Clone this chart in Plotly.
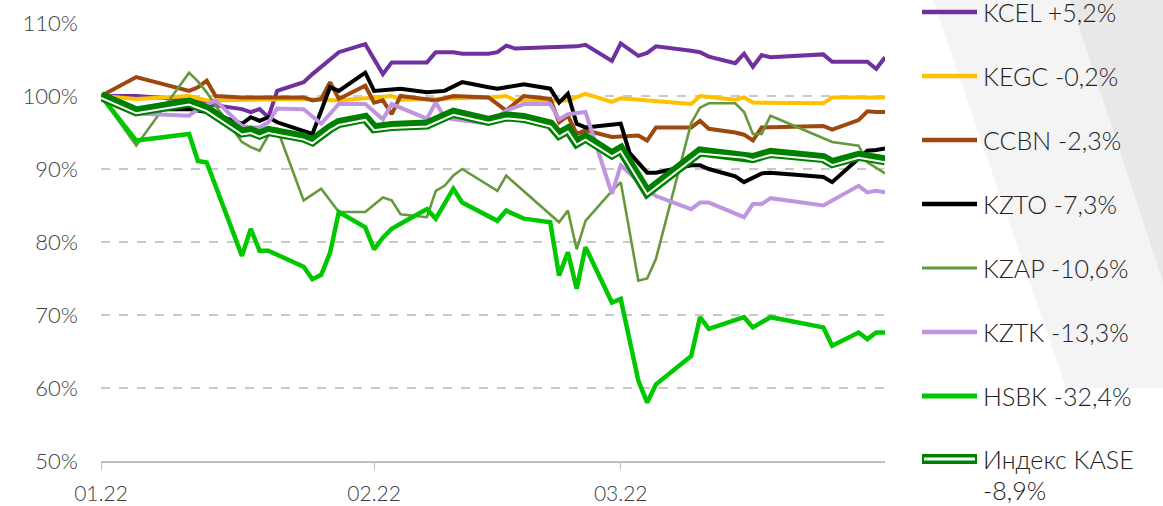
"""
KASE stocks vs index, Q1 2022 (relative to start of year, %).
"""

import plotly.graph_objects as go

# ---- data (MM-DD of 2022, value in % of base) ----
kcel_dates = ["01-01", "01-05", "01-11", "01-13", "01-17", "01-18", "01-19", "01-20", "01-21", "01-24",
              "01-25", "01-26", "01-27", "01-28", "01-31", "02-02", "02-03", "02-07", "02-08", "02-10",
              "02-11", "02-14", "02-15", "02-16", "02-17", "02-24", "02-25", "02-28", "03-01", "03-03",
              "03-04", "03-05", "03-09", "03-10", "03-11", "03-14", "03-15", "03-16", "03-17", "03-18",
              "03-24", "03-25", "03-29", "03-30", "03-31"]
kcel_vals = [100.0, 100.0, 99.5, 98.9, 98.2, 97.8, 98.2, 97.1, 100.7, 101.9,
             103.0, 104.0, 105.0, 106.0, 107.1, 103.0, 104.6, 104.6, 106.0, 106.0,
             105.8, 105.8, 106.0, 106.9, 106.5, 106.8, 107.0, 104.8, 107.2, 105.5,
             105.9, 106.8, 106.2, 106.0, 105.4, 104.5, 105.8, 104.0, 105.6, 105.3,
             105.7, 104.7, 104.7, 103.7, 105.3]

kegc_dates = ["01-01", "01-05", "01-11", "01-13", "01-24", "01-28", "02-03", "02-04", "02-14", "02-16",
              "02-17", "02-23", "02-25", "02-28", "03-01", "03-09", "03-10", "03-14", "03-15", "03-16",
              "03-24", "03-25", "03-31"]
kegc_vals = [100.0, 99.6, 100.0, 99.4, 99.6, 99.4, 100.0, 99.5, 99.8, 100.0,
             99.4, 99.4, 100.3, 99.2, 99.7, 98.9, 100.0, 99.5, 99.8, 99.1,
             99.0, 99.8, 99.8]

ccbn_dates = ["01-01", "01-05", "01-11", "01-12", "01-13", "01-14", "01-17", "01-24", "01-25", "01-26",
              "01-27", "01-28", "01-31", "02-01", "02-02", "02-03", "02-04", "02-08", "02-10", "02-14",
              "02-16", "02-18", "02-21", "02-22", "02-23", "02-24", "02-25", "02-28", "03-03", "03-04",
              "03-05", "03-09", "03-10", "03-11", "03-14", "03-15", "03-16", "03-17", "03-24", "03-25",
              "03-28", "03-29", "03-30", "03-31"]
ccbn_vals = [100.0, 102.6, 100.7, 101.2, 102.1, 100.0, 99.8, 99.8, 99.4, 99.6,
             101.9, 99.6, 101.4, 99.1, 99.4, 97.5, 100.0, 99.4, 100.0, 99.8,
             98.0, 100.0, 99.6, 96.4, 97.3, 94.8, 95.3, 94.4, 94.6, 93.9,
             95.7, 95.7, 96.6, 95.5, 95.0, 94.7, 93.9, 95.7, 95.9, 95.4,
             96.7, 97.9, 97.8, 97.8]

kzto_dates = ["01-01", "01-05", "01-11", "01-13", "01-17", "01-18", "01-19", "01-20", "01-21", "01-24",
              "01-25", "01-27", "01-28", "01-31", "02-01", "02-04", "02-07", "02-09", "02-11", "02-14",
              "02-15", "02-18", "02-21", "02-22", "02-23", "02-24", "02-25", "03-01", "03-02", "03-04",
              "03-05", "03-09", "03-10", "03-11", "03-14", "03-15", "03-16", "03-17", "03-18", "03-24",
              "03-25", "03-28", "03-29", "03-30", "03-31"]
kzto_vals = [100.0, 98.2, 98.2, 97.8, 96.2, 97.1, 96.6, 97.1, 96.4, 95.3,
             94.8, 101.2, 100.7, 103.2, 100.7, 101.0, 100.5, 100.7, 101.9, 101.2,
             101.0, 101.6, 101.0, 99.1, 100.3, 96.2, 95.7, 96.2, 92.2, 89.5,
             89.5, 90.5, 90.5, 90.0, 89.0, 88.2, 88.8, 89.4, 89.5, 88.9,
             88.2, 91.3, 92.5, 92.6, 92.8]

kzap_dates = ["01-01", "01-05", "01-11", "01-12", "01-13", "01-14", "01-17", "01-18", "01-19", "01-20",
              "01-21", "01-24", "01-26", "01-28", "01-31", "02-02", "02-03", "02-04", "02-07", "02-08",
              "02-09", "02-10", "02-11", "02-14", "02-15", "02-16", "02-21", "02-22", "02-23", "02-24",
              "02-25", "02-28", "03-01", "03-02", "03-03", "03-04", "03-05", "03-09", "03-10", "03-11",
              "03-14", "03-15", "03-16", "03-17", "03-18", "03-25", "03-28", "03-29", "03-31"]
kzap_vals = [100.0, 93.2, 103.2, 102.0, 100.5, 98.7, 93.7, 93.0, 92.5, 94.6,
             95.5, 85.7, 87.3, 84.1, 84.1, 86.1, 85.7, 83.8, 83.4, 87.0,
             87.7, 89.1, 90.0, 87.7, 87.0, 89.1, 83.8, 82.7, 84.3, 79.0,
             82.9, 87.0, 88.2, 81.5, 74.7, 75.0, 77.7, 96.3, 98.4, 99.0,
             99.0, 97.8, 94.8, 94.8, 97.3, 93.7, 93.2, 90.9, 89.4]

kztk_dates = ["01-01", "01-05", "01-11", "01-12", "01-14", "01-17", "01-18", "01-19", "01-20", "01-21",
              "01-24", "01-26", "01-28", "01-31", "02-02", "02-03", "02-07", "02-08", "02-09", "02-10",
              "02-14", "02-16", "02-18", "02-21", "02-22", "02-23", "02-25", "02-28", "03-01", "03-03",
              "03-04", "03-05", "03-09", "03-10", "03-11", "03-15", "03-16", "03-17", "03-18", "03-24",
              "03-28", "03-29", "03-30", "03-31"]
kztk_vals = [100.0, 97.6, 97.3, 98.2, 99.4, 95.9, 95.7, 95.7, 96.4, 98.3,
             98.2, 96.2, 98.9, 98.9, 96.8, 98.9, 96.9, 99.1, 97.1, 96.8,
             96.2, 98.0, 98.9, 98.9, 96.8, 97.5, 97.8, 86.6, 90.5, 88.2,
             87.2, 86.3, 84.5, 85.4, 85.4, 83.4, 85.2, 85.2, 86.0, 85.0,
             87.7, 86.8, 87.0, 86.8]

hsbk_dates = ["01-01", "01-05", "01-11", "01-12", "01-13", "01-17", "01-18", "01-19", "01-20", "01-24",
              "01-25", "01-26", "01-27", "01-28", "01-31", "02-01", "02-02", "02-03", "02-04", "02-07",
              "02-08", "02-10", "02-11", "02-14", "02-15", "02-16", "02-18", "02-21", "02-22", "02-23",
              "02-24", "02-25", "02-28", "03-01", "03-03", "03-04", "03-05", "03-09", "03-10", "03-11",
              "03-14", "03-15", "03-16", "03-18", "03-24", "03-25", "03-28", "03-29", "03-30", "03-31"]
hsbk_vals = [100.0, 93.9, 94.8, 91.1, 90.9, 78.1, 81.8, 78.8, 78.8, 76.6,
             74.9, 75.5, 78.5, 84.1, 82.0, 79.0, 80.6, 81.8, 82.5, 84.5,
             83.2, 87.3, 85.4, 83.6, 82.9, 84.3, 83.2, 82.7, 75.4, 78.6,
             73.6, 79.3, 71.7, 72.2, 61.0, 58.0, 60.5, 64.4, 69.7, 68.1,
             69.2, 69.7, 68.3, 69.7, 68.3, 65.8, 67.6, 66.7, 67.6, 67.6]

kase_dates = ["01-01", "01-05", "01-11", "01-13", "01-17", "01-18", "01-19", "01-20", "01-24", "01-25",
              "01-27", "01-28", "01-31", "02-01", "02-03", "02-07", "02-10", "02-14", "02-16", "02-18",
              "02-21", "02-22", "02-23", "02-24", "02-25", "02-28", "03-01", "03-04", "03-10", "03-15",
              "03-16", "03-18", "03-24", "03-25", "03-28", "03-31"]
kase_vals = [100.0, 97.9, 99.1, 98.2, 95.0, 95.2, 94.7, 95.2, 94.3, 93.8,
             95.6, 96.3, 97.0, 95.6, 95.9, 96.1, 97.7, 96.6, 97.2, 97.0,
             96.1, 94.7, 95.4, 93.6, 94.3, 92.0, 92.7, 86.8, 92.4, 91.8,
             91.5, 92.2, 91.5, 90.8, 91.8, 91.2]

y_ticks = [50, 60, 70, 80, 90, 100, 110]
y_labels = [f"{v}%" for v in y_ticks]

series = [
    ("KCEL +5,2%", kcel_dates, kcel_vals, "#7030a0", 4),
    ("KEGC -0,2%", kegc_dates, kegc_vals, "#ffc000", 4),
    ("CCBN -2,3%", ccbn_dates, ccbn_vals, "#9c480e", 4),
    ("KZTO -7,3%", kzto_dates, kzto_vals, "#000000", 4),
    ("KZAP -10,6%", kzap_dates, kzap_vals, "#65993c", 2.6),
    ("KZTK -13,3%", kztk_dates, kztk_vals, "#bf95e0", 4),
    ("HSBK -32,4%", hsbk_dates, hsbk_vals, "#00c800", 4.5),
]
kase_name = ["Индекс KASE", "-8,9%"]
kase_color = "#008000"

FONT = "Lato, 'Open Sans', sans-serif"
Y_RANGE = [50, 110]

# plot box in pixels, used for the decoration / manual legend placement
L, R, T, B = 101, 885, 23, 461


def full_dates(days):
    return ["2022-" + d for d in days]


def px(x):
    return (x - L) / (R - L)


def py(y):
    return (B - y) / (B - T)


fig = go.Figure()

for name, dates, vals, color, width in series:
    fig.add_trace(go.Scatter(
        x=full_dates(dates), y=vals, name=name, mode="lines",
        line=dict(color=color, width=width),
    ))

# index drawn as a double line: wide green plus a white core set 2px lower
fig.add_trace(go.Scatter(
    x=full_dates(kase_dates), y=kase_vals, name=" ".join(kase_name), mode="lines",
    line=dict(color=kase_color, width=10),
))
fig.add_trace(go.Scatter(
    x=full_dates(kase_dates), y=kase_vals, mode="lines", yaxis="y2",
    line=dict(color="#ffffff", width=2), hoverinfo="skip",
))

# decorative grey band on the right
light = f"M {px(933)},{py(0)} L {px(1163)},{py(0)} L {px(1163)},{py(388)} L {px(1066)},{py(388)} Z"
dark = f"M {px(1070)},{py(0)} L {px(1163)},{py(0)} L {px(1163)},{py(282)} Z"
shapes = [
    dict(type="path", path=light, xref="paper", yref="paper",
         fillcolor="#f4f4f4", line=dict(width=0), layer="below"),
    dict(type="path", path=dark, xref="paper", yref="paper",
         fillcolor="#e8e8e8", line=dict(width=0), layer="below"),
]
annotations = []
legend_font = dict(family=FONT, size=25, color="#222222", weight=300)

# manual legend (fixed 64px pitch like the original)
for i, (name, _, _, color, width) in enumerate(series):
    yc = 12 + 64 * i
    shapes.append(dict(type="line", xref="paper", yref="paper",
                       x0=px(922), x1=px(977), y0=py(yc), y1=py(yc),
                       line=dict(color=color, width=width + 0.5)))
    annotations.append(dict(text=name, xref="paper", yref="paper", x=px(981), y=py(yc),
                            xanchor="left", yanchor="middle", showarrow=False, font=legend_font))

yk = 11 + 64 * len(series)
shapes.append(dict(type="line", xref="paper", yref="paper",
                   x0=px(922), x1=px(977), y0=py(yk), y1=py(yk),
                   line=dict(color=kase_color, width=10)))
shapes.append(dict(type="line", xref="paper", yref="paper",
                   x0=px(924), x1=px(975), y0=py(yk), y1=py(yk),
                   line=dict(color="#ffffff", width=3)))
for j, part in enumerate(kase_name):
    annotations.append(dict(text=part, xref="paper", yref="paper", x=px(981), y=py(yk + 31 * j),
                            xanchor="left", yanchor="middle", showarrow=False, font=legend_font))

# white core axis: same scale, shifted so the line lands 2px lower
shift = 2 * (Y_RANGE[1] - Y_RANGE[0]) / (B - T)

fig.update_layout(
    width=1163,
    height=506,
    margin=dict(l=L, r=1163 - R, t=T, b=506 - B, autoexpand=False),
    paper_bgcolor="white",
    plot_bgcolor="rgba(0,0,0,0)",
    font=dict(family=FONT, color="#404040"),
    shapes=shapes,
    annotations=annotations,
    showlegend=False,
    hovermode=False,
    xaxis=dict(
        type="date",
        range=["2022-01-01", "2022-03-31"],
        tick0="2022-01-01",
        dtick="M1",
        tickformat="%m.%y",
        showgrid=False,
        showline=True,
        linecolor="#bfbfbf",
        linewidth=1.5,
        ticks="outside",
        ticklen=7,
        tickcolor="#bfbfbf",
        tickfont=dict(size=21, color="#404040", weight=300),
        ticklabelstandoff=6,
        automargin=False,
    ),
    yaxis=dict(
        range=Y_RANGE,
        tickvals=y_ticks,
        ticktext=y_labels,
        showgrid=True,
        gridcolor="#c9c9c9",
        griddash="dash",
        gridwidth=1.3,
        zeroline=False,
        showline=False,
        tickfont=dict(size=22, color="#404040", weight=300),
        ticklabelstandoff=22,
        automargin=False,
    ),
    yaxis2=dict(overlaying="y", visible=False, automargin=False,
                range=[Y_RANGE[0] + shift, Y_RANGE[1] + shift]),
)

# drop the page's default body margin so the figure sits at the window's corner
fig.write_html(
    "out.html",
    config={"displayModeBar": False, "staticPlot": True},
    post_script="document.body.style.margin='0px';",
)
